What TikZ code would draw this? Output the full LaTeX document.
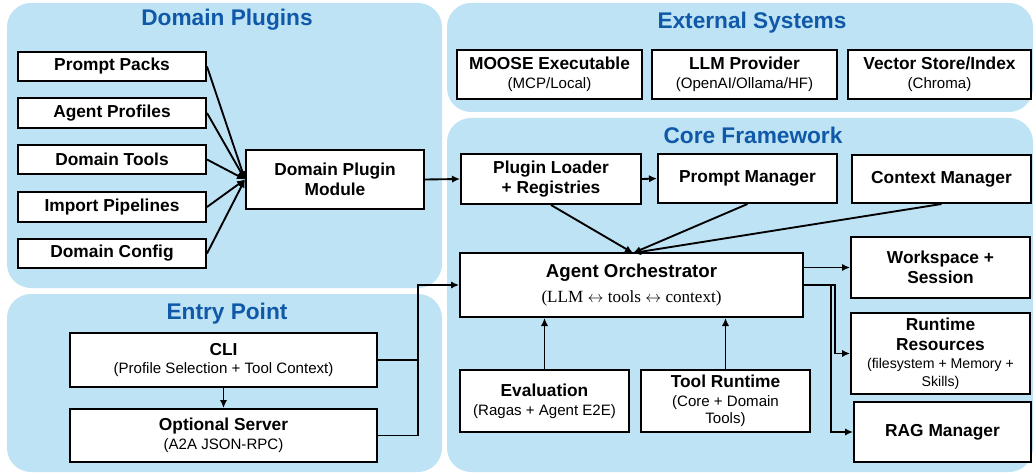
\documentclass[tikz,border=0pt]{standalone}
\usepackage{fontspec}
\setmainfont{Liberation Sans}
\newfontfamily\serifx{Liberation Serif}
\usetikzlibrary{arrows.meta}
\definecolor{panelblue}{RGB}{190,227,245}
\definecolor{titleblue}{RGB}{16,89,168}
\tikzset{
  panel/.style={fill=panelblue, draw=none, rounded corners=18pt},
  ptitle/.style={font=\fontsize{17}{20}\selectfont\bfseries, text=titleblue, inner sep=0pt},
  bx/.style 2 args={draw=black, line width=1.5pt, fill=white, inner sep=0pt, align=center,
     minimum width=#1*0.75pt, minimum height=#2*0.75pt,
     font=\fontsize{13}{15}\selectfont\bfseries},
  arr/.style={line width=1.4pt, -{Latex[length=6pt,width=5.5pt]}},
  ln/.style={line width=1.4pt},
}
\newcommand{\subt}[1]{{\fontsize{11.3}{14}\selectfont\mdseries #1}}
\newcommand{\subs}[1]{{\fontsize{10.6}{13}\selectfont\mdseries #1}}
\begin{document}
\begin{tikzpicture}[x=0.75pt,y=-0.75pt]
\useasboundingbox (0,0) rectangle (1034,474);
% panels
\fill[panel] (7,3) rectangle (442,288);
\fill[panel] (447,3) rectangle (1033,112);
\fill[panel] (447,118) rectangle (1033,472);
\fill[panel] (7,294) rectangle (442,472);
% titles
\node[ptitle, anchor=base] (tdp) at (227,26) {Domain Plugins};
\node[ptitle, anchor=base] (tes) at (752,29) {External Systems};
\node[ptitle, anchor=base] (tcf) at (753,143) {Core Framework};
\node[ptitle, anchor=base] (tep) at (227,319) {Entry Point};
% domain plugins
\node[bx={188}{29}] (pp) at (112,66.5) {Prompt Packs};
\node[bx={188}{30}] (ap) at (112,113) {Agent Profiles};
\node[bx={188}{29}] (dt) at (112,159.5) {Domain Tools};
\node[bx={188}{30}] (ip) at (112,207) {Import Pipelines};
\node[bx={188}{29}] (dc) at (112,253.5) {Domain Config};
\node[bx={178}{59}] (dpm) at (335,179.5) {Domain Plugin\\Module};
% external
\node[bx={185}{49}] (moose) at (549.5,74.5) {MOOSE Executable\\[-1pt]\subt{(MCP/Local)}};
\node[bx={185}{49}] (llm) at (744.5,74.5) {LLM Provider\\[-1pt]\subt{(OpenAI/Ollama/HF)}};
\node[bx={183}{49}] (vec) at (939.5,74.5) {Vector Store/Index\\[-1pt]\subt{(Chroma)}};
% core
\node[bx={180}{50}] (pl) at (551,179) {Plugin Loader\\+ Registries};
\node[bx={179}{49}] (pm) at (747.5,178.5) {Prompt Manager};
\node[bx={179}{48}] (cm) at (941.5,179) {Context Manager};
\node[bx={343}{64}, font=\fontsize{14}{18}\selectfont\bfseries] (ao) at (631.5,285) {Agent Orchestrator\\[1pt]{\serifx\mdseries\fontsize{12.8}{15}\selectfont (LLM $\leftrightarrow$ tools $\leftrightarrow$ context)}};
\node[bx={179}{61}] (ws) at (940.5,267.5) {Workspace +\\Session};
\node[bx={179}{81}] (rr) at (940.5,353.5) {Runtime\\Resources\\[-1pt]\subs{(filesystem + Memory +}\\[-2pt]\subs{Skills)}};
\node[bx={177}{60}] (rag) at (942.5,432) {RAG Manager};
\node[bx={169}{62}] (ev) at (544.5,401) {Evaluation\\[-1pt]\subt{(Ragas + Agent E2E)}};
\node[bx={169}{62}] (tr) at (725.5,401) {Tool Runtime\\[-1pt]\subt{(Core + Domain}\\[-2pt]\subt{Tools)}};
% entry
\node[bx={307}{54}] (cli) at (223.5,360) {CLI\\[-1pt]\subt{(Profile Selection + Tool Context)}};
\node[bx={307}{53}] (srv) at (223.5,435.5) {Optional Server\\[-1pt]\subt{(A2A JSON-RPC)}};
% connectors
\foreach \n in {pp,ap,dt,ip,dc} \draw[arr] (\n.east) -- (dpm.west);
\draw[arr] (dpm.east) -- (pl.west);
\draw[arr] (pl.east) -- (pm.west);
\coordinate (aotop) at (633,253);
\draw[arr] (pl.south) -- (aotop);
\draw[arr] (pm.south) -- (aotop);
\draw[arr] (cm.south) -- (aotop);
\draw[arr] (ao.east |- ws.west) -- (ws.west);
\draw[arr] (ao.east) -- ++(27,0) |- (rag.west);
\draw[arr] (ao.east) -- ++(31,0) |- (rr.west);
\draw[arr] (ev.north) -- (ev.north |- ao.south);
\draw[arr] (tr.north) -- (tr.north |- ao.south);
\draw[arr] (cli.south) -- (srv.north);
\coordinate (jx) at (418,0);
\draw[ln] (cli.east) -- (cli.east -| jx);
\draw[arr] (srv.east) -| (jx |- ao.west) -- (ao.west);
\end{tikzpicture}
\end{document}
